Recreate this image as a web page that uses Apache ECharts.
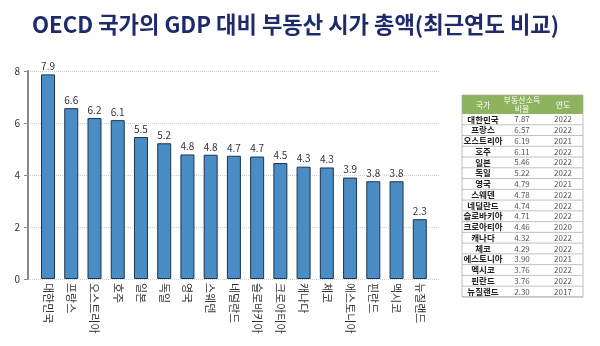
<!DOCTYPE html>
<html>
<head>
<meta charset="utf-8">
<script src="https://cdn.jsdelivr.net/npm/echarts@6/dist/echarts.min.js"></script>
<style>
html,body{margin:0;padding:0;background:#fff;}
#chart{width:600px;height:346px;}
</style>
</head>
<body>
<div id="chart"></div>
<script>
// ---- chart data ----
const categories = ['대한민국','프랑스','오스트리아','호주','일본','독일','영국','스웨덴','네덜란드','슬로바키아','크로아티아','캐나다','체코','에스토니아','핀란드','멕시코','뉴질랜드'];
const values = [7.87,6.57,6.19,6.11,5.46,5.22,4.79,4.78,4.74,4.71,4.46,4.32,4.29,3.90,3.76,3.76,2.30];
const yTicks = [0,2,4,6,8];

// ---- table data ----
const tableHeader = ['국가','부동산소득\n비율','연도'];
const tableCountries = ['대한민국','프랑스','오스트리아','호주','일본','독일','영국','스웨덴','네덜란드','슬로바키아','크로아티아','캐나다','체코','에스토니아','멕시코','핀란드','뉴질랜드'];
const tableRatios = ['7.87','6.57','6.19','6.11','5.46','5.22','4.79','4.78','4.74','4.71','4.46','4.32','4.29','3.90','3.76','3.76','2.30'];
const tableYears = ['2022','2022','2021','2022','2022','2022','2021','2022','2022','2022','2020','2022','2022','2021','2022','2022','2017'];

const FONT = "'Noto Sans CJK KR','Noto Sans',sans-serif";

// table graphic built from arrays
const tX = 462, tW = 121, tY = 95, hH = 19, rowH = 10.76;
const colC = [483, 522, 563];
const gfx = [];
gfx.push({type:'rect', shape:{x:tX, y:tY, width:tW, height:hH}, style:{fill:'#8db35e'}});
tableHeader.forEach((h,i)=>{
  gfx.push({type:'text', x:colC[i], y:tY+hH/2, style:{text:h, fill:'#fff', font:'8px '+FONT, align:'center', verticalAlign:'middle', lineHeight:9}});
});
tableCountries.forEach((c,i)=>{
  const y0 = tY + hH + i*rowH;
  gfx.push({type:'line', shape:{x1:tX, y1:y0+rowH, x2:tX+tW, y2:y0+rowH}, style:{stroke:'#b0b0b0', lineWidth:0.8}});
  gfx.push({type:'text', x:colC[0], y:y0+rowH/2, style:{text:c, fill:'#222', font:'bold 8.5px '+FONT, align:'center', verticalAlign:'middle'}});
  gfx.push({type:'text', x:colC[1], y:y0+rowH/2, style:{text:tableRatios[i], fill:'#555', font:'8px '+FONT, align:'center', verticalAlign:'middle'}});
  gfx.push({type:'text', x:colC[2], y:y0+rowH/2, style:{text:tableYears[i], fill:'#555', font:'8px '+FONT, align:'center', verticalAlign:'middle'}});
});
gfx.push({type:'rect', shape:{x:tX, y:tY, width:tW, height:hH + tableCountries.length*rowH}, style:{fill:'none', stroke:'#a9b39a', lineWidth:0.8}});

const chart = echarts.init(document.getElementById('chart'));
chart.setOption({
  animation:false,
  backgroundColor:'#fff',
  title:{
    text:'OECD 국가의 GDP 대비 부동산 시가 총액(최근연도 비교)',
    left:27, top:8,
    textStyle:{fontFamily:FONT, fontSize:22.2, fontWeight:'bold', color:'#1e2a6a'}
  },
  grid:[
    {left:28, top:71, width:412, height:208},
    {left:36.4, top:71, width:395, height:208}
  ],
  xAxis:[
    {gridIndex:0, type:'value', show:false, min:0, max:1},
    {gridIndex:1, type:'category', data:categories,
     axisLine:{show:false}, axisTick:{show:false},
     axisLabel:{interval:0, rotate:-90, margin:4, fontSize:11, color:'#333', fontFamily:FONT}}
  ],
  yAxis:[
    {gridIndex:0, type:'value', min:yTicks[0], max:yTicks[yTicks.length-1], interval:2,
     axisLine:{show:true, lineStyle:{color:'#8a8a8a', width:2}},
     axisTick:{show:true, length:4, lineStyle:{color:'#8a8a8a'}},
     axisLabel:{margin:8, fontSize:10, color:'#333', fontFamily:FONT},
     splitLine:{show:true, lineStyle:{color:'#cfcfcf', type:'dotted', width:1}}},
    {gridIndex:1, type:'value', min:0, max:8, show:false}
  ],
  series:[{
    type:'bar', xAxisIndex:1, yAxisIndex:1, data:values, barWidth:14,
    itemStyle:{color:'#4a8cc4', borderColor:'#1c3550', borderWidth:1},
    label:{show:true, position:'top', distance:3, fontSize:10, color:'#333', fontFamily:FONT,
      formatter:p=>p.value.toFixed(1)}
  }],
  graphic:gfx
});
</script>
</body>
</html>
